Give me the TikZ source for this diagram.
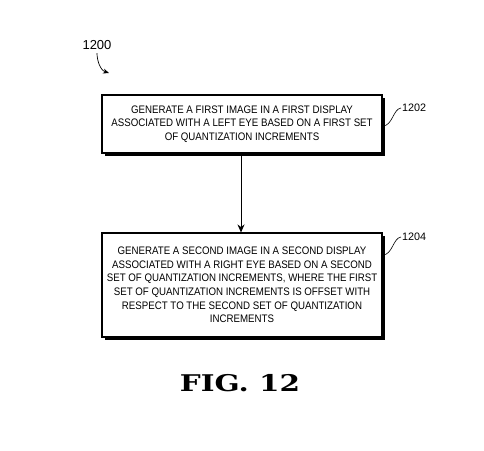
\documentclass[tikz,border=0pt]{standalone}
\usepackage{fontspec}
\setmainfont{Liberation Sans}
\newfontfamily\boxfont{Liberation Sans}[FakeStretch=0.89]
\newfontfamily\figfont{DejaVu Serif}[FakeStretch=1.28]
\usepackage{tikz}
\usetikzlibrary{arrows.meta, positioning, shadows}

\begin{document}
\begin{tikzpicture}[
    x=1pt, y=-1pt, >=Stealth,
    stepbox/.style={rectangle, draw=black, line width=1.1pt, fill=white,
                 align=center, minimum width=280pt,
                 font=\boxfont\fontsize{10.9}{13.6}\selectfont,
                 drop shadow={shadow xshift=2.6pt, shadow yshift=-2.6pt,
                              opacity=1, fill=black}},
    refnum/.style={font=\fontsize{10.8}{12}\selectfont, inner sep=1pt},
    lead/.style={line width=0.6pt},
    a/.style={-{Stealth[length=8pt, width=7pt]}, line width=0.9pt},
]

\useasboundingbox (0,0) rectangle (484,450);

%% ─── nodes ───────────────────────────────────────────────────
\node[font=\fontsize{13}{15}\selectfont] (ref1200) at (97, 45) {1200};
\coordinate (tip1200) at (109, 73);

\node[stepbox, minimum height=58pt] (firstimg) at (242, 124)
    {GENERATE A FIRST IMAGE IN A FIRST DISPLAY\\
     ASSOCIATED WITH A LEFT EYE BASED ON A FIRST SET\\
     OF QUANTIZATION INCREMENTS};

\node[stepbox, minimum height=104pt] (secondimg) at (242, 285)
    {GENERATE A SECOND IMAGE IN A SECOND DISPLAY\\
     ASSOCIATED WITH A RIGHT EYE BASED ON A SECOND\\
     SET OF QUANTIZATION INCREMENTS, WHERE THE FIRST\\
     SET OF QUANTIZATION INCREMENTS IS OFFSET WITH\\
     RESPECT TO THE SECOND SET OF QUANTIZATION\\
     INCREMENTS};

\node[refnum, anchor=west] (ref1202) at (401, 108) {1202};
\node[refnum, anchor=west] (ref1204) at (401, 237) {1204};

\node[font=\figfont\bfseries\fontsize{23}{26}\selectfont] (fig) at (240, 383)
    {FIG.\ 12};

%% ─── arrows ──────────────────────────────────────────────────

% figure number pointer
\draw[-{Stealth[length=6pt, width=5pt]}, line width=0.7pt] (ref1200.south)
    .. controls +(0, 7) and +(-9, -3) .. (tip1200);

% step flow
\draw[a] (firstimg.south -| 241,0) -- (secondimg.north -| 241,0);

% leaders to reference numbers
\draw[lead] (firstimg.east |- 0,126) .. controls +(10,0) and +(-8,1) .. (ref1202.west);
\draw[lead] (secondimg.east |- 0,255) .. controls +(10,0) and +(-8,1) .. (ref1204.west);

\end{tikzpicture}
\end{document}
